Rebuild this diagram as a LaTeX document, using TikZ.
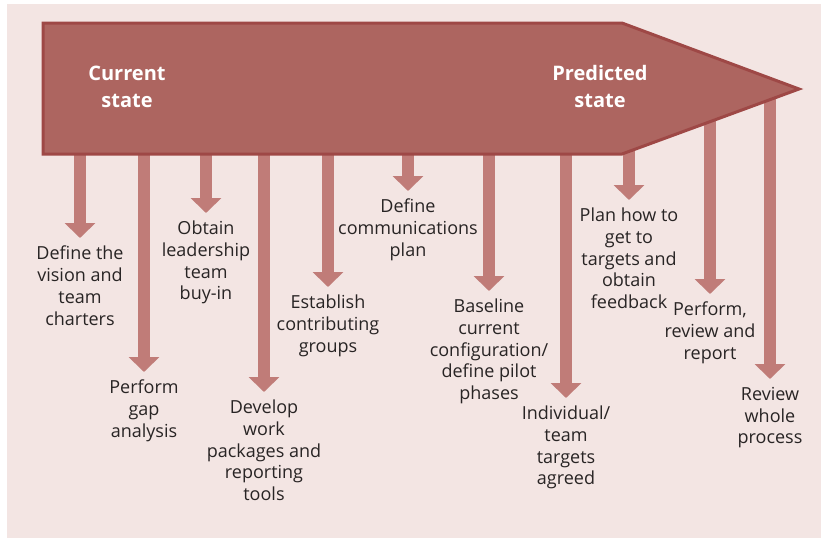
\documentclass[tikz,border=0pt]{standalone}
\usepackage{fontspec}
\setmainfont{Open Sans}
\usetikzlibrary{arrows.meta}
\definecolor{bgpink}{RGB}{243,229,227}
\definecolor{bandfill}{RGB}{173,101,96}
\definecolor{bandedge}{RGB}{158,72,70}
\definecolor{dropred}{RGB}{192,124,120}
\definecolor{textdark}{RGB}{40,36,36}
\tikzset{
  stateband/.style={fill=bandfill, draw=bandedge, line width=3pt, line join=miter},
  statetext/.style={text=white, align=center,
    font=\fontsize{20}{27}\selectfont\bfseries},
  steptext/.style={anchor=north, align=center, text=textdark,
    font=\fontsize{18}{21.7}\selectfont, inner xsep=0pt, inner ysep=8pt},
  drop/.style={draw=dropred, line width=12pt, -{Triangle[width=30pt,length=15pt]}}
}
\begin{document}
\begin{tikzpicture}[x=1pt, y=-1pt]
  \useasboundingbox (0,0) rectangle (822,539);
  \fill[bgpink] (7,4) rectangle (821,538);

  % steps below the band
  \node[steptext] (l1) at (80,238) {Define the\\vision and\\team\\charters};
  \node[steptext] (l2) at (144,372) {Perform\\gap\\analysis};
  \node[steptext] (l3) at (206,213) {Obtain\\leadership\\team\\buy-in};
  \node[steptext] (l4) at (264,392) {Develop\\work\\packages and\\reporting\\tools};
  \node[steptext] (l5) at (328,287) {Establish\\contributing\\groups};
  \node[steptext] (l6) at (408,191) {Define\\communications\\plan};
  \node[steptext] (l7) at (489,291) {Baseline\\current\\configuration/\\define pilot\\phases};
  \node[steptext] (l8) at (566,398) {Individual/\\team\\targets\\agreed};
  \node[steptext] (l9) at (629,200) {Plan how to\\get to\\targets and\\obtain\\feedback};
  \node[steptext] (l10) at (710,294) {Perform,\\review and\\report};
  \node[steptext] (l11) at (770,379) {Review\\whole\\process};

  % arrows start inside the band
  \coordinate (s1) at (80,90);
  \coordinate (s2) at (144,90);
  \coordinate (s3) at (206,90);
  \coordinate (s4) at (264,90);
  \coordinate (s5) at (328,90);
  \coordinate (s6) at (408,90);
  \coordinate (s7) at (489,90);
  \coordinate (s8) at (566,90);
  \coordinate (s9) at (629,90);
  \coordinate (s10) at (710,90);
  \coordinate (s11) at (770,90);
  \foreach \i in {1,...,11}
    \draw[drop] (s\i) -- (l\i);

  % the band
  \draw[stateband] (43,23) -- (622,23) -- (799,89) -- (622,154) -- (43,154) -- cycle;
  \node[statetext] (now) at (127,86.5) {Current\\state};
  \node[statetext] (goal) at (600,86.5) {Predicted\\state};
\end{tikzpicture}
\end{document}
